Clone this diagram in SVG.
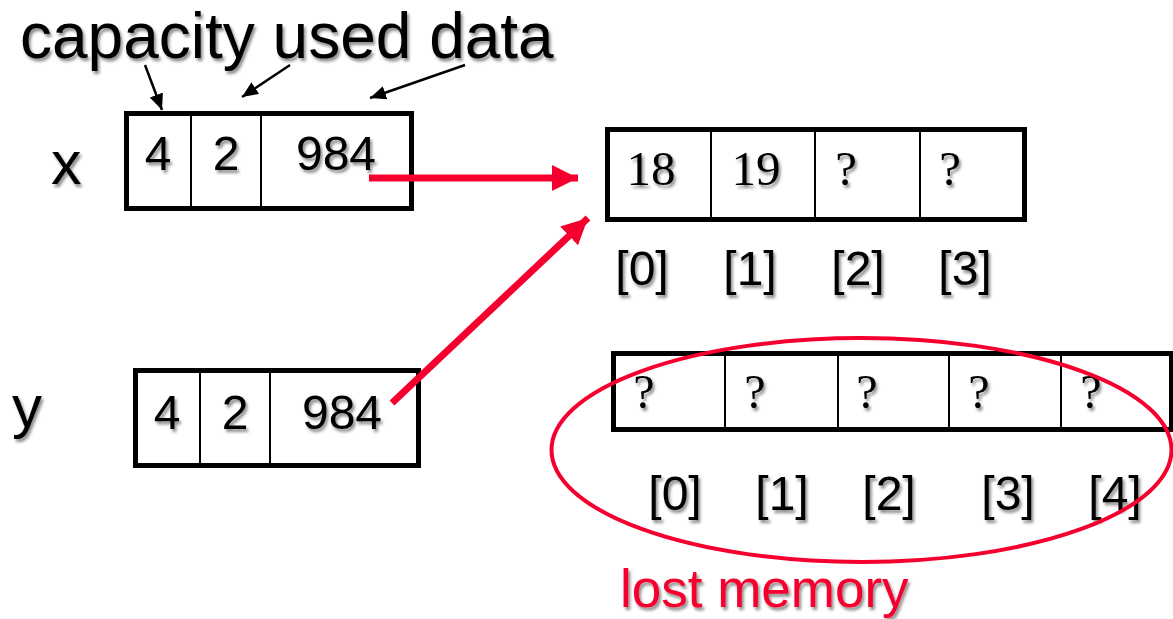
<svg xmlns="http://www.w3.org/2000/svg" width="1173" height="619" viewBox="0 0 1173 619">
  <defs>
    <filter id="shadow" x="-20%" y="-20%" width="140%" height="160%">
      <feDropShadow dx="2" dy="3" stdDeviation="1.8" flood-color="#000" flood-opacity="0.45"/>
    </filter>
    <marker id="blackHead" viewBox="0 0 16 14" refX="16" refY="7" markerWidth="16" markerHeight="14" markerUnits="userSpaceOnUse" orient="auto">
      <path d="M0,0 L16,7 L0,14 Z" fill="#000"/>
    </marker>
    <marker id="redHead" viewBox="0 0 26 26" refX="26" refY="13" markerWidth="26" markerHeight="26" markerUnits="userSpaceOnUse" orient="auto">
      <path d="M0,0 L26,13 L0,26 Z" fill="#f5002e"/>
    </marker>
  </defs>
  <style>
    .sans { font-family: "Liberation Sans", Arial, sans-serif; fill: #000; }
    .serif { font-family: "Liberation Serif", "Times New Roman", serif; fill: #000; }
    .txt { filter: url(#shadow); }
    .frame { fill: #fff; stroke: #000; stroke-width: 5; }
    .cell { stroke: #000; stroke-width: 2; fill: none; }
    .ptr { stroke: #000; stroke-width: 2.5; fill: none; marker-end: url(#blackHead); }
    .link { stroke: #f5002e; stroke-width: 7; fill: none; marker-end: url(#redHead); }
  </style>
  <rect width="1173" height="619" fill="#fff"/>

  <!-- field captions -->
  <g id="captions" class="txt">
    <text class="sans" x="20" y="58" font-size="64">capacity used data</text>
  </g>

  <!-- variable x: capacity / used / data pointer -->
  <g id="var-x">
    <text class="sans txt" x="51" y="184" font-size="61">x</text>
    <rect class="frame" x="126.5" y="113.5" width="285" height="95"/>
    <line class="cell" x1="191" y1="113.5" x2="191" y2="208.5"/>
    <line class="cell" x1="261" y1="113.5" x2="261" y2="208.5"/>
    <g class="txt sans" font-size="48" text-anchor="middle">
      <text x="158" y="170">4</text>
      <text x="226" y="170">2</text>
      <text x="336" y="170">984</text>
    </g>
  </g>

  <!-- variable y: copy of x -->
  <g id="var-y">
    <text class="sans txt" x="12" y="427" font-size="60">y</text>
    <rect class="frame" x="135.5" y="370.5" width="283" height="95"/>
    <line class="cell" x1="200" y1="370.5" x2="200" y2="465.5"/>
    <line class="cell" x1="270" y1="370.5" x2="270" y2="465.5"/>
    <g class="txt sans" font-size="48" text-anchor="middle">
      <text x="167" y="429">4</text>
      <text x="235" y="429">2</text>
      <text x="342" y="429">984</text>
    </g>
  </g>

  <!-- shared dynamic array of capacity 4 -->
  <g id="array-4">
    <rect class="frame" x="607.5" y="129.5" width="417" height="90"/>
    <line class="cell" x1="711" y1="129.5" x2="711" y2="219.5"/>
    <line class="cell" x1="815" y1="129.5" x2="815" y2="219.5"/>
    <line class="cell" x1="920" y1="129.5" x2="920" y2="219.5"/>
    <g class="txt serif" font-size="49" text-anchor="middle">
      <text x="651" y="185">18</text>
      <text x="756" y="185">19</text>
      <text x="846" y="185">?</text>
      <text x="950" y="185">?</text>
    </g>
    <g class="txt sans" font-size="48" text-anchor="middle">
      <text x="642" y="285">[0]</text>
      <text x="750" y="285">[1]</text>
      <text x="858" y="285">[2]</text>
      <text x="965" y="285">[3]</text>
    </g>
  </g>

  <!-- orphaned dynamic array of capacity 5 -->
  <g id="array-5">
    <rect class="frame" x="613.5" y="353.5" width="558" height="76"/>
    <line class="cell" x1="725" y1="353.5" x2="725" y2="429.5"/>
    <line class="cell" x1="838" y1="353.5" x2="838" y2="429.5"/>
    <line class="cell" x1="949" y1="353.5" x2="949" y2="429.5"/>
    <line class="cell" x1="1061" y1="353.5" x2="1061" y2="429.5"/>
    <g class="txt serif" font-size="48" text-anchor="middle">
      <text x="644" y="408">?</text>
      <text x="755" y="408">?</text>
      <text x="867" y="408">?</text>
      <text x="979" y="408">?</text>
      <text x="1091" y="408">?</text>
    </g>
    <g class="txt sans" font-size="48" text-anchor="middle">
      <text x="675" y="510">[0]</text>
      <text x="782" y="510">[1]</text>
      <text x="889" y="510">[2]</text>
      <text x="1008" y="510">[3]</text>
      <text x="1115" y="510">[4]</text>
    </g>
  </g>

  <!-- leak highlight -->
  <g id="lost-memory">
    <ellipse cx="861.5" cy="450" rx="310" ry="112" fill="none" stroke="#f5002e" stroke-width="4"/>
    <text class="txt" x="620" y="607" font-size="53" font-family="'Liberation Sans', Arial, sans-serif" fill="#f5002e">lost memory</text>
  </g>

  <!-- connectors -->
  <g id="connectors">
    <line class="ptr" x1="145" y1="65" x2="162" y2="110"/>
    <line class="ptr" x1="290" y1="65" x2="242" y2="97"/>
    <line class="ptr" x1="465" y1="65" x2="370" y2="98"/>
    <line class="link" x1="369" y1="178" x2="578" y2="178"/>
    <line class="link" x1="392" y1="403" x2="588" y2="218"/>
  </g>
</svg>
